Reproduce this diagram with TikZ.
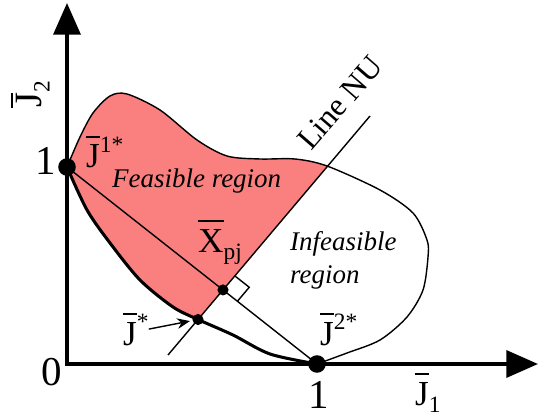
\documentclass[tikz,border=0pt]{standalone}
\usepackage{fontspec}
\setmainfont{Liberation Serif}
\usetikzlibrary{arrows.meta,calc}
\definecolor{feas}{RGB}{250,128,128}
\newcommand\ovl[1]{\leavevmode\setbox0\hbox{#1}\rlap{\rule[\dimexpr\ht0+0.2em\relax]{\wd0}{0.06em}}\box0}
\newcommand\ovlt[1]{\leavevmode\setbox0\hbox{#1}\rlap{\rule[\dimexpr\ht0+0.06em\relax]{\wd0}{0.06em}}\box0}
\newcommand\sbx[1]{\raisebox{-0.22em}{\fontsize{20}{20}\selectfont #1}}
\newcommand\spx[1]{\raisebox{0.45em}{\fontsize{20}{20}\selectfont #1}}
\begin{document}
\begin{tikzpicture}[x=0.03cm,y=0.03cm,
  axis/.style={line width=3pt, line join=miter, {Triangle[length=27pt,width=23pt]}-{Triangle[length=27pt,width=23pt]}},
  thinln/.style={line width=1.2pt},
  front/.style={line width=2.6pt},
  dot/.style={circle, fill=black, inner sep=0pt},
  lab/.style={inner sep=0pt, font=\fontsize{30}{32}\selectfont},
  num/.style={inner sep=0pt, font=\fontsize{35}{36}\selectfont},
  reg/.style={inner sep=0pt, font=\fontsize{23}{28}\selectfont\itshape},
]
\useasboundingbox (0,0) rectangle (540,419);
\coordinate (O) at (67,55);
\coordinate (Ytop) at (67,416);
\coordinate (Xend) at (538,55);
\coordinate (J1) at (67,252);
\coordinate (J2) at (317,55);
\coordinate (NUb) at (168,64);
\coordinate (NUt) at (370,303);
\coordinate (Js) at (198,99.5);
\coordinate (X) at (intersection of J1--J2 and NUb--NUt);
\def\outer{(67,252) (80,282) (93,306) (110,323) (127,325) (160,309) (197,279) (227,263) (260,260) (295,260) (327,253) (380,229) (413,206) (427,179) (428,162) (423,129) (407,102) (380,79) (347,66) (317,55)}
\def\pareto{(67,252) (87,209) (110,176) (140,139) (173,112) (198,99.5) (233,84) (270,65) (317,55)}
\def\paretorev{(317,55) (270,65) (233,84) (198,99.5) (173,112) (140,139) (110,176) (87,209) (67,252)}
% feasible region fill
\begin{scope}
\clip ($(NUt)!2!(NUb)$) -- ($(NUb)!2!(NUt)$) -- (-100,600) -- cycle;
\fill[feas] plot[smooth] coordinates {\outer} -- plot[smooth] coordinates {\paretorev} -- cycle;
\end{scope}
% lines
\draw[thinln] (J1) -- (J2);
\draw[thinln] (NUb) -- (NUt);
\draw[thinln] plot[smooth] coordinates {\outer};
\draw[front] plot[smooth] coordinates {\pareto};
\draw[axis] (Ytop) -- (O) -- (Xend);
% right angle
\coordinate (RA) at ($(X)!0.55cm!(NUt)$);
\coordinate (RC) at ($(X)!0.55cm!(J2)$);
\coordinate (RB) at ($(RA)+(RC)-(X)$);
\draw[thinln] (RA) -- (RB) -- (RC);
% dots
\node[dot, minimum size=15pt] (j1dot) at (J1) {};
\node[dot, minimum size=15pt] (j2dot) at (J2) {};
\node[dot, minimum size=9.5pt] (xdot) at (X) {};
\node[dot, minimum size=9.5pt] (jsdot) at (Js) {};
% labels
\node[lab, font=\fontsize{33}{34}\selectfont, rotate=90, anchor=base west] (ylab) at (41,311) {\ovlt{J}\sbx{2}};
\node[lab, anchor=base west] (xlab) at (415,14) {\ovl{J}\sbx{1}};
\node[num, anchor=base] (one1) at (46,244) {1};
\node[num, anchor=base] (zero) at (52,34) {0};
\node[num, anchor=base] (one2) at (319,11) {1};
\node[lab, anchor=base west] (j1l) at (86,251) {\ovl{J}\spx{1*}};
\node[lab, anchor=base west] (j2l) at (320,74) {\ovl{J}\spx{2*}};
\node[lab, anchor=base west] (jsl) at (123,74) {\ovl{J}\spx{*}};
\node[lab, anchor=base west] (xl) at (198,167) {\ovl{X}\sbx{pj}};
\node[reg, anchor=base west] (feasl) at (112,231) {Feasible region};
\node[reg, anchor=base west] (infl1) at (290,169) {Infeasible};
\node[reg, anchor=base west] (infl2) at (290,136) {region};
\node[lab, font=\fontsize{27}{28}\selectfont, rotate=49, anchor=base west] (nul) at (311,267) {Line NU};
\draw[thinln, -{Stealth[length=11pt,width=9pt]}, shorten >=2pt] (jsl.east) -- (jsdot);
\end{tikzpicture}
\end{document}
